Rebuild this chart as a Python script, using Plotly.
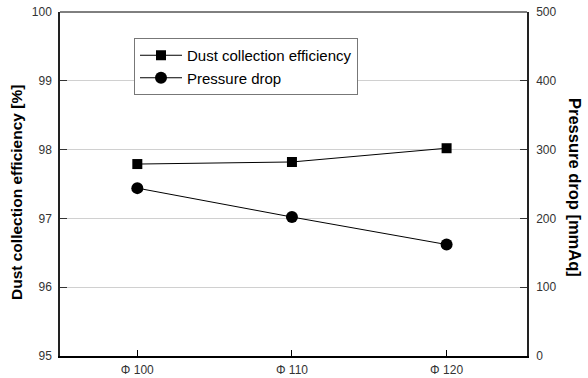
import plotly.graph_objects as go

categories = ["Φ 100", "Φ 110", "Φ 120"]
efficiency = [97.79, 97.82, 98.02]
pressure_drop = [244, 202, 162]

x_idx = list(range(len(categories)))

fig = go.Figure()
fig.add_trace(go.Scatter(
    x=x_idx, y=efficiency, name="Dust collection efficiency",
    mode="lines+markers",
    line=dict(color="black", width=1),
    marker=dict(symbol="square", size=10, color="black"),
    yaxis="y",
))
fig.add_trace(go.Scatter(
    x=x_idx, y=pressure_drop, name="Pressure drop",
    mode="lines+markers",
    line=dict(color="black", width=1),
    marker=dict(symbol="circle", size=12, color="black"),
    yaxis="y2",
))

font_family = "Liberation Sans, Arial, sans-serif"

fig.update_layout(
    width=588, height=378,
    margin=dict(l=60, r=61, t=12, b=22, autoexpand=False),
    paper_bgcolor="white", plot_bgcolor="white",
    font=dict(family=font_family, color="#222", size=12),
    showlegend=True,
    legend=dict(
        x=(134 - 60) / 467, y=(356 - 38) / 344, xanchor="left", yanchor="top",
        bordercolor="#777", borderwidth=1, bgcolor="white",
        font=dict(size=15, color="black"),
        tracegroupgap=0, itemwidth=42,
    ),
    xaxis=dict(
        range=[-0.5, 2.52], automargin=False,
        tickmode="array", tickvals=x_idx, ticktext=categories,
        ticks="inside", ticklen=6, tickcolor="black",
        showline=True, linecolor="black", linewidth=1.5,
        mirror=False, showgrid=False, zeroline=False,
        ticklabelstandoff=2,
        tickfont=dict(size=12, color="#333"),
    ),
    yaxis=dict(
        range=[95, 100], dtick=1, automargin=False,
        ticks="inside", ticklen=7, tickcolor="#333",
        showline=True, linecolor="#222", linewidth=1.5,
        showgrid=True, gridcolor="#d0d0d0", gridwidth=1,
        zeroline=False, ticklabelstandoff=4,
        tickfont=dict(size=12, color="#333"),
    ),
    yaxis2=dict(
        range=[0, 500], dtick=100, automargin=False,
        overlaying="y", side="right",
        ticks="inside", ticklen=7, tickcolor="#333",
        showline=True, linecolor="#222", linewidth=1.5,
        showgrid=False, zeroline=False, ticklabelstandoff=5,
        tickfont=dict(size=12, color="#333"),
    ),
    shapes=[dict(type="line", xref="paper", yref="paper",
                 x0=0, x1=1, y0=1, y1=1,
                 line=dict(color="black", width=1))],
    annotations=[
        dict(
            text="<b>Pressure drop [mmAq]</b>", xref="paper", yref="paper",
            x=(575 - 60) / 467, y=(356 - 187) / 344, xanchor="center", yanchor="middle",
            textangle=90, showarrow=False,
            font=dict(size=16.5, color="black", family=font_family),
        ),
        dict(
            text="<b>Dust collection efficiency [%]</b>", xref="paper", yref="paper",
            x=(16 - 60) / 467, y=(356 - 193) / 344, xanchor="center", yanchor="middle",
            textangle=-90, showarrow=False,
            font=dict(size=15.5, color="black", family=font_family),
        ),
    ],
)

fig.write_html("out.html", config={"displayModeBar": False},
               post_script="document.body.style.margin='0';")
